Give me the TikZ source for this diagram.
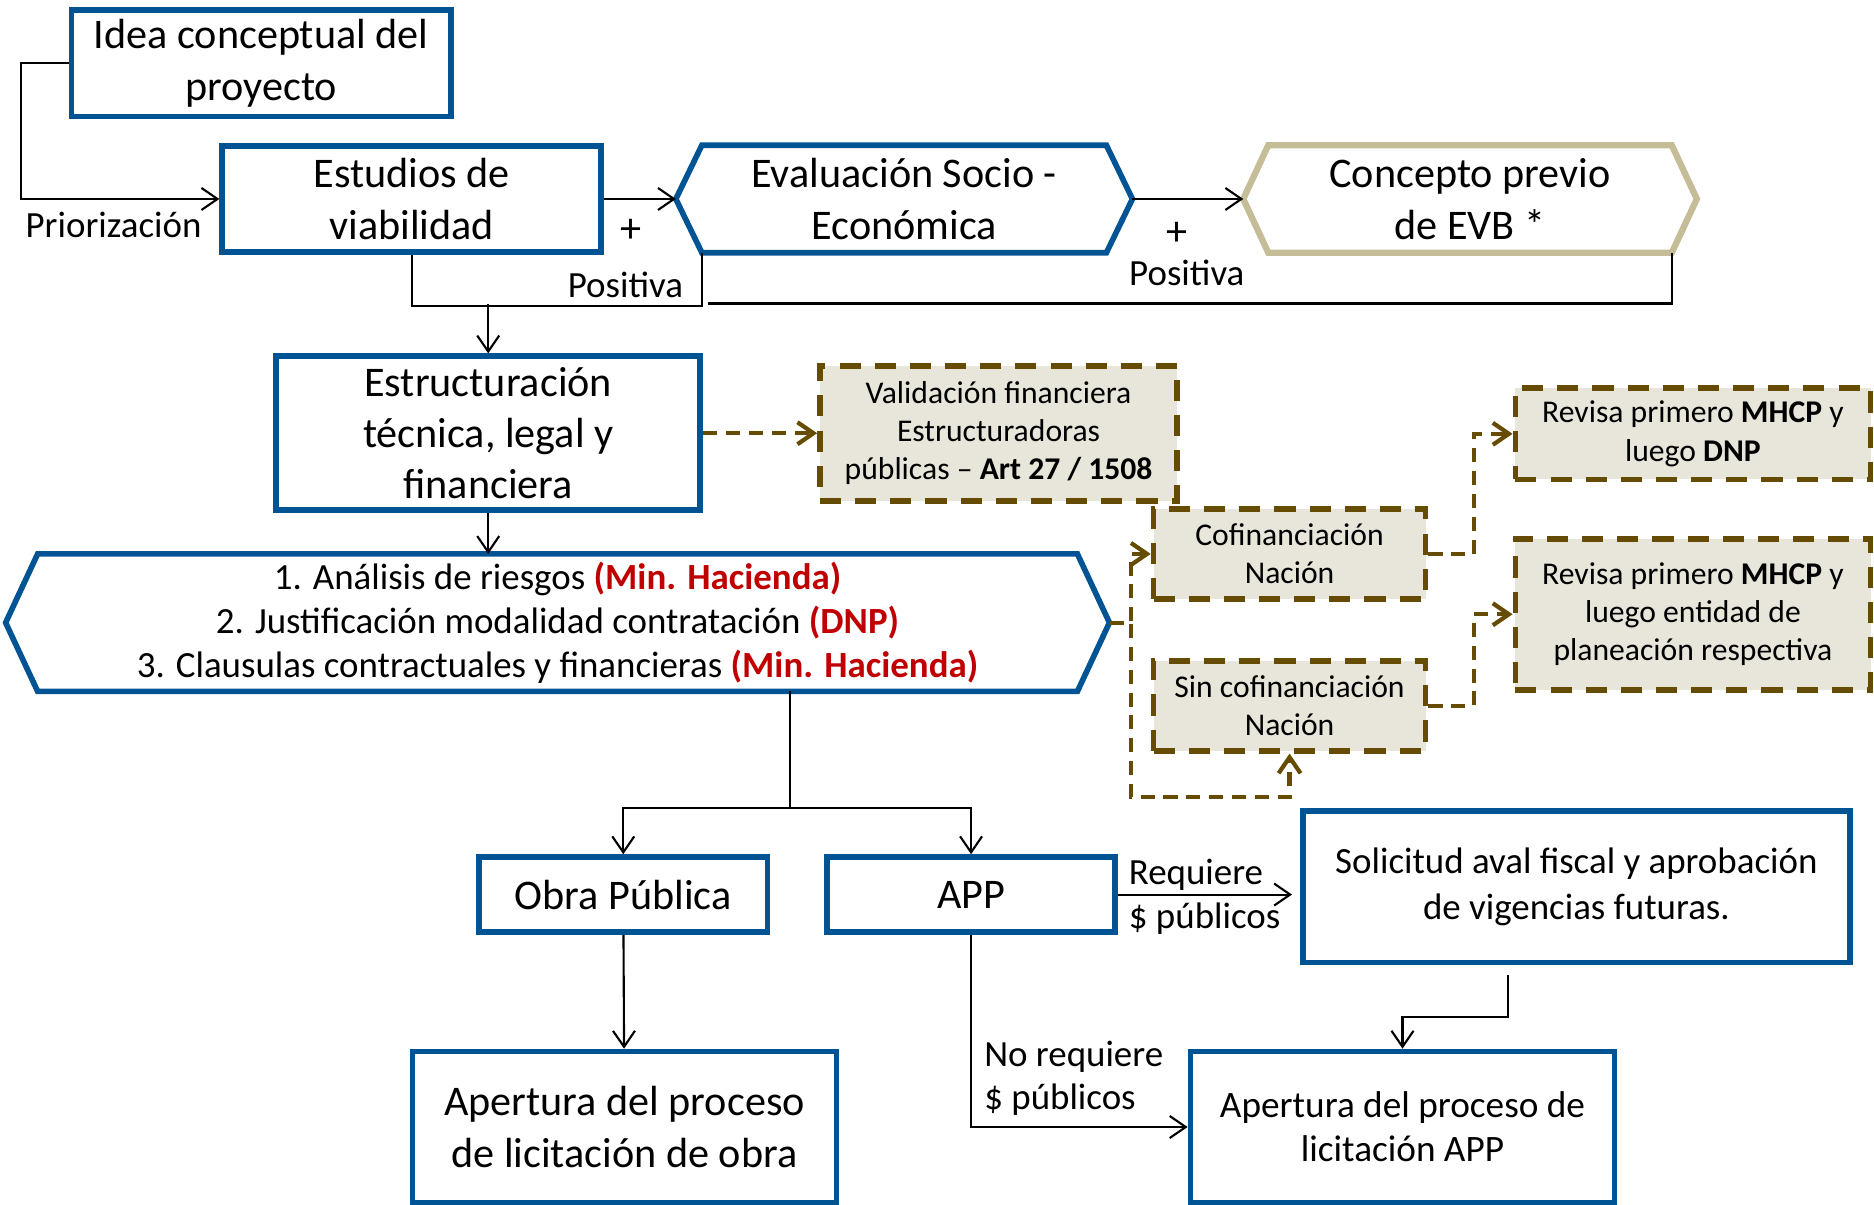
\documentclass[tikz,border=0pt]{standalone}
\usepackage{fontspec}
\setmainfont{Carlito}
\usetikzlibrary{arrows.meta}

\definecolor{boxblue}{RGB}{0,84,147}
\definecolor{evbtan}{RGB}{196,189,151}
\definecolor{dashbrown}{RGB}{102,76,0}
\definecolor{boxfill}{RGB}{232,230,218}
\definecolor{entred}{RGB}{192,0,0}
\newcommand{\orgred}[1]{\textcolor{entred}{\textbf{#1}}}

\begin{document}
\begin{tikzpicture}[x=0.01195cm, y=-0.01195cm,
    >={Straight Barb[length=0.16cm,width=0.22cm]},
    bluebox/.style={rectangle, draw=boxblue, line width=1.6pt, align=center,
                    inner sep=0pt, minimum height=1.06cm,
                    font=\fontsize{12}{14.6}\selectfont},
    hexbox/.style={rectangle, align=center, inner sep=0pt, minimum height=1.06cm,
                   font=\fontsize{12}{14.6}\selectfont},
    hexline/.style={draw=boxblue, line width=1.6pt},
    notebox/.style={rectangle, draw=dashbrown, fill=boxfill, line width=1.6pt,
                    dash pattern=on 6pt off 4pt, align=center, inner sep=0pt,
                    font=\fontsize{9}{10.9}\selectfont},
    link/.style={->, line width=0.6pt},
    dashlink/.style={->, draw=dashbrown, line width=1.2pt, dash pattern=on 4pt off 2.5pt},
    lbl/.style={font=\fontsize{10.5}{12.6}\selectfont, inner sep=0pt}]
    \useasboundingbox (0,0) rectangle (1568,1008);

    % top row
    \node (idea) [bluebox, minimum width=3.79cm] at (218.5,53)
          {Idea conceptual del\\proyecto};
    \node (estudios) [bluebox, minimum width=3.79cm] at (344.5,166.5)
          {Estudios de\\viabilidad};
    \node (eval) [hexbox, minimum width=4.03cm] at (756.5,166.5)
          {Evaluación Socio -\\Económica};
    \draw [hexline] (eval.north west) -- (eval.north east)
          -- ([xshift=0.26cm]eval.east) coordinate (eval-e)
          -- (eval.south east) -- (eval.south west)
          -- ([xshift=-0.26cm]eval.west) coordinate (eval-w) -- cycle;
    \node (evb) [hexbox, minimum width=4.02cm] at (1230,166.5)
          {Concepto previo\\de EVB *};
    \draw [hexline, draw=evbtan, line width=1.8pt] (evb.north west) -- (evb.north east)
          -- ([xshift=0.25cm]evb.east)
          -- (evb.south east) -- (evb.south west)
          -- ([xshift=-0.25cm]evb.west) coordinate (evb-w) -- cycle;

    \draw [link] (idea.west) -- ++(-40,0) |- (estudios.west);
    \node (prior) [lbl] at (95,188) {Priorización};
    \draw [link] (estudios.east) -- (eval-w);
    \node (mas1) [lbl, font=\fontsize{12}{14}\selectfont] at (528,193) {+};
    \node (pos1) [lbl, anchor=east] at (572,238) {Positiva};
    \draw [link] (eval-e) -- (evb-w);
    \node (mas2) [lbl, font=\fontsize{12}{14}\selectfont] at (985,196) {+};
    \node (pos2) [lbl] at (993,228) {Positiva};

    % feedback
    \draw [line width=0.6pt] (estudios.south) -- ++(0,43) -| (eval.south west);
    \coordinate (fb) at (592,254);
    \draw [line width=0.6pt] (evb.south east) |- (fb);

    % structuring
    \node (estr) [bluebox, minimum width=4.24cm, minimum height=1.54cm] at (408.5,362.5)
          {Estructuración\\técnica, legal y\\financiera};
    \draw [link] (estr.north |- fb) -- (estr.north);
    \node (valid) [notebox, minimum width=3.57cm, minimum height=1.35cm] at (835.5,362.5)
          {Validación financiera\\Estructuradoras\\públicas – \textbf{Art 27 / 1508}};
    \draw [dashlink] (estr.east) -- (valid.west);

    \node (riesgo) [hexbox, minimum width=10.38cm, minimum height=1.36cm,
                    font=\fontsize{10.5}{12.5}\selectfont] at (466.5,521)
          {1. Análisis de riesgos \orgred{(Min. Hacienda)}\\
           2. Justificación modalidad contratación \orgred{(DNP)}\\
           3. Clausulas contractuales y financieras \orgred{(Min. Hacienda)}};
    \draw [hexline] (riesgo.north west) -- (riesgo.north east)
          -- ([xshift=0.32cm]riesgo.east) coordinate (riesgo-e)
          -- (riesgo.south east) -- (riesgo.south west)
          -- ([xshift=-0.32cm]riesgo.west) -- cycle;
    \draw [link] (estr.south) -- (estr.south |- riesgo.north);

    % financing
    \node (cof) [notebox, minimum width=2.72cm, minimum height=0.9cm] at (1079,463.5)
          {Cofinanciación\\Nación};
    \node (sincof) [notebox, minimum width=2.72cm, minimum height=0.9cm] at (1079,590.5)
          {Sin cofinanciación\\Nación};
    \node (rev1) [notebox, minimum width=3.55cm, minimum height=0.91cm] at (1416.5,363)
          {Revisa primero \textbf{MHCP} y\\luego \textbf{DNP}};
    \node (rev2) [notebox, minimum width=3.55cm, minimum height=1.51cm] at (1416.5,514)
          {Revisa primero \textbf{MHCP} y\\luego entidad de\\planeación respectiva};
    \draw [dashlink] (riesgo-e) -- ++(18,0) |- (cof.west);
    \draw [dashlink] (riesgo-e) -- ++(18,0) -- ++(0,146) -| (sincof.south);
    \draw [dashlink] (cof.east) -- ++(38,0) |- (rev1.west);
    \draw [dashlink] (sincof.east) -- ++(38,0) |- (rev2.west);

    % contracting
    \node (obra) [bluebox, minimum width=2.88cm, minimum height=0.75cm] at (521.5,748.5)
          {Obra Pública};
    \node (app) [bluebox, minimum width=2.88cm, minimum height=0.75cm] at (812.5,748.5)
          {APP};
    \coordinate (split) at (661,676);
    \draw [line width=0.6pt] (riesgo.south -| split) -- (split);
    \draw [link] (split) -| (obra.north);
    \draw [link] (split) -| (app.north);

    \node (sol) [bluebox, minimum width=5.47cm, minimum height=1.51cm,
                 font=\fontsize{10.5}{12.9}\selectfont] at (1319,742)
          {Solicitud aval fiscal y aprobación\\de vigencias futuras.};
    \node (aptapp) [bluebox, minimum width=4.24cm, minimum height=1.51cm,
                    font=\fontsize{10.6}{12.6}\selectfont] at (1173.5,943)
          {Apertura del proceso de\\licitación APP};
    \node (aptobra) [bluebox, minimum width=4.24cm, minimum height=1.51cm] at (522.5,943)
          {Apertura del proceso\\de licitación de obra};

    \draw [link, shorten >=0.08cm] (app.east) -- (app.east -| sol.west);
    \node (req) [lbl, anchor=west] at (944,732) {Requiere};
    \node (reqp) [lbl, anchor=west] at (944,769) {\$ públicos};
    \draw [link] ([xshift=-0.68cm, yshift=-0.1cm]sol.south) -- ++(0,35) -| (aptapp.north);
    \draw [link] (app.south) |- (aptapp.west);
    \node (noreq) [lbl, anchor=west] at (823,884) {No requiere};
    \node (noreqp) [lbl, anchor=west] at (823,920) {\$ públicos};
    \draw [link] (obra) -- (aptobra);
\end{tikzpicture}
\end{document}
